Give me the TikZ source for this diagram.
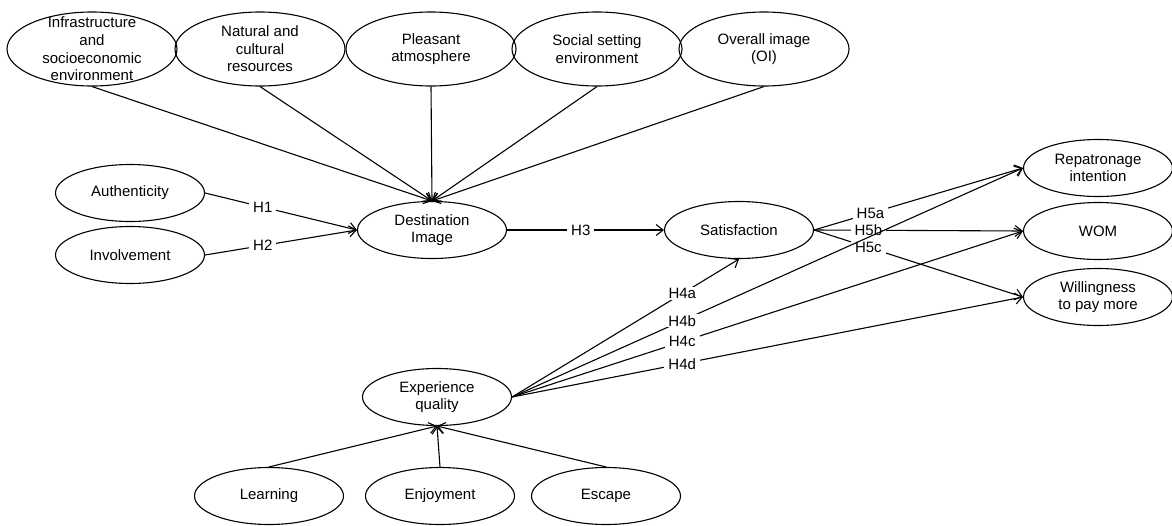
\documentclass[tikz,border=0pt]{standalone}
\usepackage{fontspec}
\setmainfont{Liberation Sans}
\usetikzlibrary{shapes.geometric,arrows.meta}
\begin{document}
\begin{tikzpicture}[x=1pt,y=-1pt,
  txt/.style={font=\fontsize{15}{17.6}\selectfont, align=center, inner sep=0pt},
  topell/.style={draw, ellipse, line width=1.1pt, inner sep=0pt, minimum width=170pt, minimum height=74pt},
  midell/.style={draw, ellipse, line width=1.1pt, inner sep=0pt, minimum width=149pt, minimum height=57pt},
  arr/.style={-{Straight Barb[length=7pt,width=11pt]}, line width=1.1pt},
  lab/.style={fill=white, font=\fontsize{15}{17.6}\selectfont, inner xsep=4pt, inner ysep=1pt}]
\useasboundingbox (0,0) rectangle (1172,525);

% top row
\node[topell] (i1) at (92,49) {};
\node[txt] (i1t) at (i1) {Infrastructure\\and\\socioeconomic\\environment};
\node[topell] (i2) at (260,49) {};
\node[txt] (i2t) at (i2) {Natural and\\cultural\\resources};
\node[topell] (i3) at (431,49) {};
\node[txt] (i3t) at (i3) {Pleasant\\atmosphere};
\node[topell] (i4) at (597,49) {};
\node[txt] (i4t) at (i4) {Social setting\\environment};
\node[topell] (i5) at (764,49) {};
\node[txt] (i5t) at (i5) {Overall image\\(OI)};

% middle
\node[midell] (au) at (130,193) {};
\node[txt] (aut) at (au) {Authenticity};
\node[midell] (iv) at (130,255) {};
\node[txt] (ivt) at (iv) {Involvement};
\node[midell] (di) at (432,230) {};
\node[txt] (dit) at (di) {Destination\\Image};
\node[midell] (sat) at (739,230) {};
\node[txt] (satt) at (sat) {Satisfaction};
\node[midell] (rep) at (1098,168) {};
\node[txt] (rept) at (rep) {Repatronage\\intention};
\node[midell] (wom) at (1098,231) {};
\node[txt] (womt) at (wom) {WOM};
\node[midell] (wil) at (1098,297) {};
\node[txt] (wilt) at (wil) {Willingness\\to pay more};
\node[midell] (eq) at (437,397) {};
\node[txt] (eqt) at (eq) {Experience\\quality};

% bottom
\node[midell] (le) at (269,496) {};
\node[txt] (let) at (le) {Learning};
\node[midell] (en) at (440,496) {};
\node[txt] (ent) at (en) {Enjoyment};
\node[midell] (es) at (606,496) {};
\node[txt] (est) at (es) {Escape};

% connectors into destination image
\foreach \n in {i1,i2,i3,i4,i5} \draw[arr] (\n.south) -- (di.north);
\draw[arr] (au.east) -- node[lab,pos=0.38]{H1} (di.west);
\draw[arr] (iv.east) -- node[lab,pos=0.38]{H2} (di.west);
\draw[arr] (di.east) -- node[lab,pos=0.47]{H3} (sat.west);

% satisfaction outcomes
\draw[arr] (sat.east) -- node[lab,pos=0.27]{H5a} (rep.west);
\draw[arr] (sat.east) -- node[lab,pos=0.26]{H5b} (wom.west);
\draw[arr] (sat.east) -- node[lab,pos=0.26]{H5c} (wil.west);

% experience quality
\draw[arr] (eq.east) -- node[lab,pos=0.75]{H4a} (sat.south);
\draw[arr] (eq.east) -- node[lab,pos=0.333]{H4b} (rep.west);
\draw[arr] (eq.east) -- node[lab,pos=0.333]{H4c} (wom.west);
\draw[arr] (eq.east) -- node[lab,pos=0.333]{H4d} (wil.west);

\foreach \n in {le,en,es} \draw[arr] (\n.north) -- (eq.south);
\end{tikzpicture}
\end{document}
